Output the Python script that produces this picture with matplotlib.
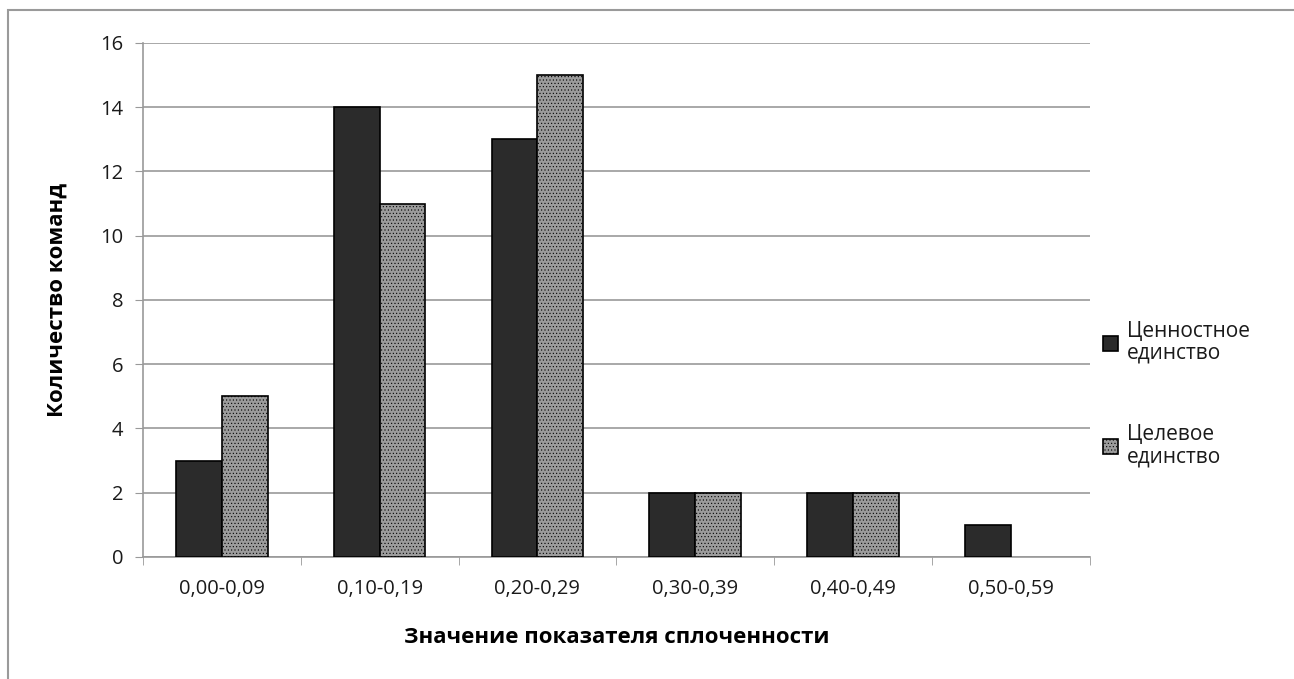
import numpy as np
import matplotlib
matplotlib.use("Agg")
import matplotlib.pyplot as plt
from matplotlib.patches import Rectangle

plt.rcParams['font.family'] = ['Open Sans', 'DejaVu Sans']
plt.rcParams['hatch.color'] = '#666666'
plt.rcParams['hatch.linewidth'] = 0.4

categories = ["0,00-0,09", "0,10-0,19", "0,20-0,29", "0,30-0,39", "0,40-0,49", "0,50-0,59"]
value_unity = [3, 14, 13, 2, 2, 1]
goal_unity = [5, 11, 15, 2, 2, 0]
series_names = ["Ценностное\nединство", "Целевое\nединство"]

fig = plt.figure(figsize=(12.94, 6.79), dpi=100)
ax = fig.add_axes([0.1105, 0.1797, 0.7315, 0.757])

# outer frame of the picture
fig.patches.append(Rectangle((0.006, -0.1), 1.2, 1.085, transform=fig.transFigure,
                             fill=False, edgecolor='#9a9a9a', linewidth=1.5))

x = np.arange(len(categories))
w = 0.29
# zero-height bars are not drawn at all
v1 = np.where(np.array(value_unity) == 0, np.nan, value_unity)
v2 = np.where(np.array(goal_unity) == 0, np.nan, goal_unity)
ax.bar(x - w / 2, v1, w, color='#2b2b2b', edgecolor='black', linewidth=1.2,
       label=series_names[0], zorder=3)
ax.bar(x + w / 2, v2, w, color='#9c9c9c', edgecolor='black', linewidth=1.2,
       hatch='.....', label=series_names[1], zorder=3)

ax.set_xlim(-0.5, len(categories) - 0.5)
ax.set_ylim(0, 16)
ax.set_yticks(range(0, 17, 2))
ax.set_xticks(x)
ax.set_xticklabels(categories, fontsize=14.5, color='#1a1a1a')
ax.tick_params(axis='y', labelsize=14.5, colors='#1a1a1a', length=6, color='#999999', pad=8)
ax.tick_params(axis='x', length=0, pad=16)
ax.set_xticks(np.arange(-0.5, len(categories)), minor=True)
ax.tick_params(axis='x', which='minor', length=6, color='#999999')
ax.grid(axis='y', color='#999999', linewidth=1.2, zorder=0)
for s in ['top', 'right']:
    ax.spines[s].set_visible(False)
ax.spines['left'].set_color('#999999')
ax.spines['bottom'].set_color('#999999')
ax.spines['left'].set_linewidth(1.2)
ax.spines['bottom'].set_linewidth(1.2)

ax.set_xlabel("Значение показателя сплоченности", fontsize=16, fontweight='bold', labelpad=20)
ax.set_ylabel("Количество команд", fontsize=16, fontweight='bold', labelpad=24)

leg = ax.legend(loc='upper left', bbox_to_anchor=(1.005, 0.475), frameon=False,
                fontsize=15, handlelength=0.75, handleheight=0.75, handletextpad=0.4,
                labelspacing=2.9, borderaxespad=0)
for t in leg.get_texts():
    t.set_linespacing(1.05)
    t.set_color('#1a1a1a')

fig.savefig("out.png", dpi=100)
